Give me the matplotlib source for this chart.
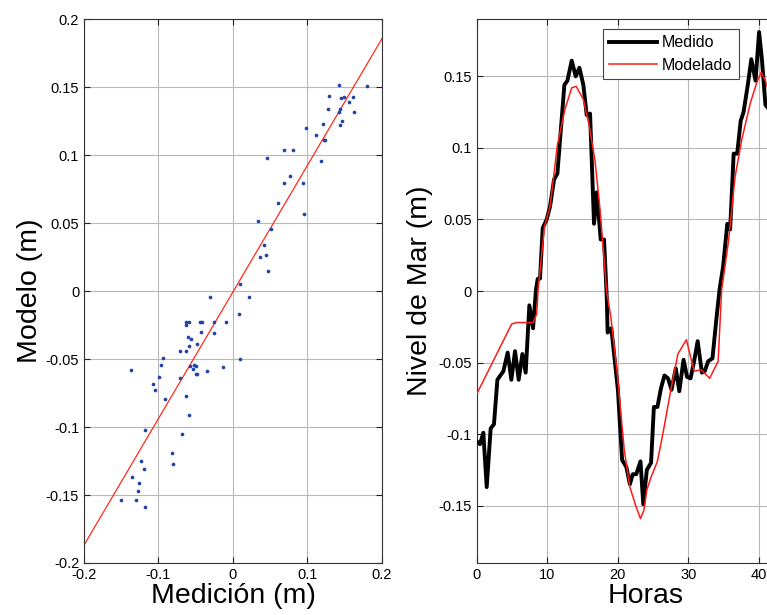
import matplotlib
matplotlib.use("Agg")
import matplotlib.pyplot as plt

plt.rcParams["font.family"] = ["Liberation Sans", "DejaVu Sans"]

# Dispersion: medido vs modelado (m)
medicion = [
    0.142, 0.180, 0.129, 0.145, 0.149, 0.161, 0.156, 0.127, 0.143, 0.142,
    0.162, 0.121, 0.146, 0.143, 0.098, 0.112, 0.122, 0.124, 0.068, 0.081,
    0.046, 0.118, 0.076, 0.068, 0.094, 0.060, 0.095, 0.033, 0.051, 0.041,
    0.044, 0.036, 0.047, 0.009, -0.031, 0.022, 0.008, -0.063, -0.059, -0.063,
    -0.044, -0.041, -0.026, -0.010, -0.043, -0.026, -0.061, -0.056, -0.059, -0.048,
    -0.071, -0.063, -0.094, -0.096, -0.137, -0.058, -0.052, -0.050, -0.053, -0.049,
    -0.048, -0.035, -0.014, 0.010, -0.099, -0.071, -0.107, -0.105, -0.091, -0.063,
    -0.059, -0.118, -0.069, -0.082, -0.081, -0.123, -0.120, -0.136, -0.126, -0.128,
    -0.150, -0.130, -0.118,
]
modelo = [
    0.152, 0.151, 0.144, 0.142, 0.143, 0.143, 0.139, 0.134, 0.134, 0.132,
    0.132, 0.123, 0.125, 0.122, 0.120, 0.115, 0.111, 0.111, 0.104, 0.104,
    0.098, 0.096, 0.085, 0.080, 0.080, 0.065, 0.057, 0.052, 0.046, 0.034,
    0.027, 0.025, 0.015, 0.005, -0.004, -0.004, -0.017, -0.023, -0.023, -0.025,
    -0.023, -0.023, -0.023, -0.023, -0.030, -0.031, -0.034, -0.035, -0.040, -0.039,
    -0.044, -0.044, -0.049, -0.054, -0.058, -0.055, -0.054, -0.055, -0.057, -0.061,
    -0.061, -0.059, -0.056, -0.050, -0.063, -0.064, -0.068, -0.073, -0.079, -0.077,
    -0.091, -0.102, -0.105, -0.119, -0.127, -0.125, -0.131, -0.137, -0.141, -0.147,
    -0.154, -0.154, -0.159,
]
fit_slope = 0.932
fit_intercept = -0.0005

# Serie temporal del nivel del mar (m)
horas_med = [
    0.0, 0.47, 0.94, 1.42, 1.98, 2.45, 2.93, 3.78, 4.39, 4.91,
    5.43, 5.95, 6.47, 6.94, 7.46, 7.98, 8.4, 8.64, 8.97, 9.35,
    9.91, 10.39, 10.96, 11.43, 12.42, 12.85, 13.46, 14.03, 14.55, 15.11,
    15.58, 16.06, 16.62, 17.0, 17.57, 18.04, 18.42, 18.55, 19.07, 20.0,
    20.6, 21.2, 21.7, 22.1, 22.6, 23.2, 23.6, 24.1, 24.7, 25.1,
    25.6, 26.1, 26.6, 27.1, 27.6, 28.2, 28.7, 29.3, 29.8, 30.3,
    30.8, 31.3, 31.9, 32.3, 32.8, 33.4, 33.9, 34.4, 34.9, 35.5,
    35.9, 36.4, 36.9, 37.4, 37.8, 38.4, 38.9, 39.5, 40.0, 40.4,
    40.9, 41.6,
]
nivel_med = [
    -0.105, -0.107, -0.099, -0.137, -0.096, -0.093, -0.062, -0.056, -0.043, -0.062,
    -0.042, -0.062, -0.044, -0.057, -0.010, -0.026, 0.001, 0.0085, 0.0087, 0.044,
    0.050, 0.059, 0.078, 0.082, 0.144, 0.147, 0.161, 0.150, 0.156, 0.144,
    0.123, 0.124, 0.047, 0.069, 0.036, 0.036, -0.004, -0.029, -0.026, -0.069,
    -0.118, -0.123, -0.135, -0.128, -0.128, -0.119, -0.149, -0.125, -0.120, -0.081,
    -0.081, -0.068, -0.059, -0.061, -0.069, -0.054, -0.070, -0.048, -0.060, -0.061,
    -0.049, -0.035, -0.057, -0.056, -0.049, -0.047, -0.022, 0.001, 0.017, 0.047,
    0.043, 0.096, 0.096, 0.119, 0.125, 0.144, 0.162, 0.147, 0.181, 0.162,
    0.130, 0.126,
]
horas_mod = [
    0.0, 4.96, 5.66, 8.0, 8.5, 8.7, 9.6, 10.4, 11.43, 12.5,
    13.46, 14.1, 15.1, 15.96, 16.76, 17.47, 18.2, 18.4, 19.0, 19.9,
    20.9, 21.7, 22.6, 23.2, 23.7, 24.1, 24.7, 25.6, 26.4, 27.5,
    28.5, 29.7, 30.8, 31.8, 33.0, 34.2, 34.7, 35.65, 36.6, 37.6,
    38.8, 39.7, 40.3, 40.9, 41.6,
]
nivel_mod = [
    -0.072, -0.023, -0.022, -0.022, -0.016, 0.001, 0.045, 0.059, 0.102, 0.127,
    0.142, 0.143, 0.134, 0.115, 0.091, 0.057, 0.013, 0.0, -0.018, -0.057,
    -0.111, -0.137, -0.151, -0.159, -0.153, -0.139, -0.130, -0.119, -0.099, -0.069,
    -0.044, -0.034, -0.056, -0.055, -0.061, -0.049, 0.001, 0.034, 0.080, 0.107,
    0.132, 0.146, 0.153, 0.147, 0.135,
]

fig = plt.figure(figsize=(7.67, 6.15), dpi=100)
ax1 = fig.add_axes([0.1095, 0.0846, 0.3885, 0.8837])
ax2 = fig.add_axes([0.6215, 0.0846, 0.4418, 0.8843])

grid_kw = dict(color="#b8b8b8", linewidth=0.8)
for ax in (ax1, ax2):
    ax.grid(True, **grid_kw)
    ax.set_axisbelow(True)
    ax.tick_params(direction="in", top=True, right=True, length=4,
                   labelsize=10.5, colors="#222222", labelcolor="black")
    for sp in ax.spines.values():
        sp.set_color("#333333")
        sp.set_linewidth(0.8)

# Panel izquierdo: dispersion y recta de ajuste
ax1.scatter(medicion, modelo, s=7, color="#2244a8", zorder=3, linewidths=0)
x_fit = [-0.2, 0.2]
y_fit = [fit_slope * x + fit_intercept for x in x_fit]
ax1.plot(x_fit, y_fit, color="#ff2a1a", linewidth=0.9, zorder=2)
ax1.set_xlim(-0.2, 0.2)
ax1.set_ylim(-0.2, 0.2)
ax1.set_xticks([-0.2, -0.1, 0, 0.1, 0.2])
ax1.set_xticklabels(["-0.2", "-0.1", "0", "0.1", "0.2"])
ax1.set_yticks([-0.2, -0.15, -0.1, -0.05, 0, 0.05, 0.1, 0.15, 0.2])
ax1.set_yticklabels(["-0.2", "-0.15", "-0.1", "-0.05", "0", "0.05", "0.1", "0.15", "0.2"])
ax1.set_xlabel("Medición (m)", fontsize=20.5, labelpad=1)
ax1.set_ylabel("Modelo (m)", fontsize=20.5, labelpad=2)

# Panel derecho: serie temporal
ax2.plot(horas_med, nivel_med, color="black", linewidth=2.8, label="Medido", zorder=3)
ax2.plot(horas_mod, nivel_mod, color="#ff1a1a", linewidth=1.1, label="Modelado", zorder=4)
ax2.set_xlim(0, 48)
ax2.set_ylim(-0.19, 0.19)
ax2.set_xticks([0, 10, 20, 30, 40])
ax2.set_yticks([-0.15, -0.1, -0.05, 0, 0.05, 0.1, 0.15])
ax2.set_yticklabels(["-0.15", "-0.1", "-0.05", "0", "0.05", "0.1", "0.15"])
ax2.set_xlabel("Horas", fontsize=20.5, labelpad=1)
ax2.set_ylabel("Nivel de Mar (m)", fontsize=20.5, labelpad=4)

leg = ax2.legend(loc="upper left", bbox_to_anchor=(603 / 767, 1 - 29 / 615),
                 bbox_transform=fig.transFigure, borderaxespad=0,
                 fontsize=11.5, fancybox=False, framealpha=1,
                 handlelength=3.0, handletextpad=0.3, borderpad=0.4,
                 labelspacing=0.45)
leg.get_frame().set_edgecolor("#444444")
leg.get_frame().set_linewidth(0.8)

fig.savefig("out.png", dpi=100)
